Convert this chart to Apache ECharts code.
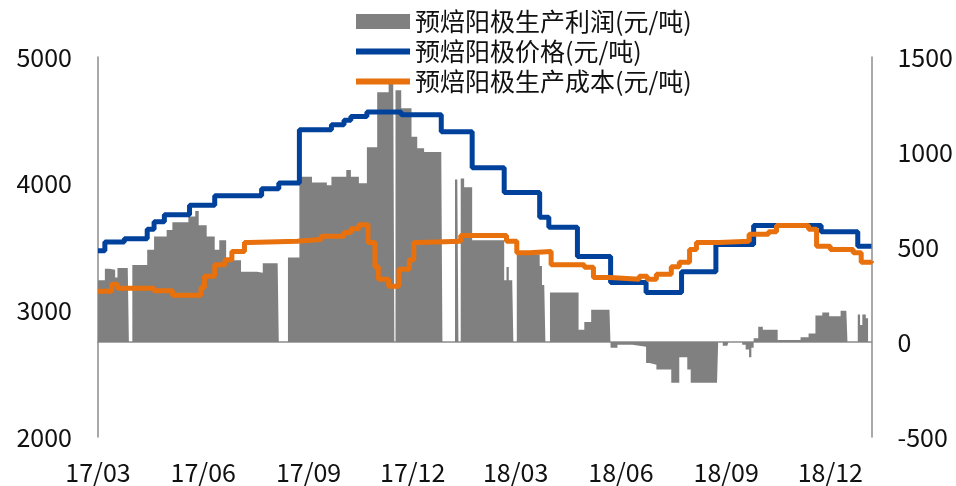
<!DOCTYPE html>
<html>
<head>
<meta charset="utf-8">
<script src="https://cdn.jsdelivr.net/npm/echarts@6/dist/echarts.min.js"></script>
<style>
html,body{margin:0;padding:0;background:#fff;}
#chart{width:956px;height:486px;}
</style>
</head>
<body>
<div id="chart"></div>
<script>
// ---- data ----
const seriesNames = ['预焙阳极生产利润(元/吨)', '预焙阳极价格(元/吨)', '预焙阳极生产成本(元/吨)'];
const tickLabels = ['2017-03-01','2017-06-01','2017-09-01','2017-12-01','2018-03-01','2018-06-01','2018-09-01','2018-12-01'];
const axisStart = '2017-03-01';
const axisEnd = '2019-01-06';

const priceDates = ['2017-03-01','2017-03-07','2017-03-24','2017-04-13','2017-04-19','2017-04-28','2017-05-20','2017-06-11','2017-07-22','2017-08-06','2017-08-24','2017-09-21','2017-10-02','2017-10-08','2017-10-22','2017-11-21','2017-12-26','2018-01-22','2018-02-19','2018-03-22','2018-03-30','2018-04-24','2018-05-23','2018-06-23','2018-07-24','2018-08-23','2018-09-25','2018-11-23','2018-12-25','2019-01-06'];
const priceValues = [3470,3540,3565,3640,3700,3755,3830,3905,3960,4005,4425,4465,4500,4530,4565,4545,4410,4125,3930,3735,3655,3425,3220,3140,3305,3520,3670,3620,3505,3505];

const costDates = ['2017-03-01','2017-03-13','2017-03-18','2017-04-19','2017-05-05','2017-05-30','2017-06-02','2017-06-11','2017-06-20','2017-06-26','2017-07-07','2017-07-11','2017-08-22','2017-09-12','2017-10-02','2017-10-08','2017-10-15','2017-10-23','2017-10-29','2017-11-01','2017-11-10','2017-11-19','2017-11-28','2017-12-02','2017-12-07','2018-01-12','2018-02-21','2018-03-02','2018-03-13','2018-04-01','2018-04-30','2018-05-08','2018-05-23','2018-06-17','2018-06-24','2018-07-02','2018-07-15','2018-07-22','2018-07-31','2018-08-06','2018-08-26','2018-09-21','2018-10-08','2018-10-15','2018-11-12','2018-11-19','2018-12-01','2018-12-21','2018-12-28','2019-01-06'];
const costValues = [3150,3205,3175,3155,3120,3180,3270,3360,3400,3465,3535,3545,3560,3585,3615,3645,3675,3535,3345,3245,3190,3325,3400,3535,3545,3590,3545,3455,3465,3360,3340,3260,3245,3270,3245,3285,3345,3380,3480,3535,3545,3600,3620,3670,3640,3505,3480,3455,3380,3390];

const profitDates = ['2017-03-01','2017-03-07','2017-03-11','2017-03-16','2017-03-18','2017-03-27','2017-03-28','2017-03-31','2017-04-13','2017-04-19','2017-04-30','2017-05-05','2017-05-19','2017-05-25','2017-05-28','2017-06-04','2017-06-11','2017-06-15','2017-06-21','2017-07-04','2017-07-18','2017-07-23','2017-08-05','2017-08-06','2017-08-14','2017-08-24','2017-09-04','2017-09-17','2017-09-21','2017-10-04','2017-10-08','2017-10-15','2017-10-22','2017-10-31','2017-11-10','2017-11-14','2017-11-15','2017-11-16','2017-11-21','2017-11-30','2017-12-05','2017-12-11','2017-12-26','2017-12-27','2018-01-07','2018-01-09','2018-01-10','2018-01-12','2018-01-15','2018-01-22','2018-02-19','2018-02-21','2018-02-23','2018-02-26','2018-02-27','2018-03-02','2018-03-22','2018-03-24','2018-03-26','2018-03-27','2018-03-31','2018-04-25','2018-04-30','2018-05-06','2018-05-22','2018-05-23','2018-05-29','2018-06-11','2018-06-23','2018-06-26','2018-07-02','2018-07-15','2018-07-22','2018-07-29','2018-08-01','2018-08-24','2018-08-25','2018-08-29','2018-09-02','2018-09-03','2018-09-15','2018-09-18','2018-09-21','2018-09-23','2018-09-25','2018-09-29','2018-10-03','2018-10-16','2018-11-05','2018-11-12','2018-11-18','2018-11-24','2018-11-30','2018-12-10','2018-12-15','2018-12-16','2018-12-25','2018-12-27','2018-12-29','2019-01-01','2019-01-03'];
const profitValues = [325,385,380,340,390,390,null,405,485,555,590,630,660,690,615,555,485,535,430,370,365,415,415,null,445,870,840,825,870,905,870,835,1025,1315,1380,1380,null,1325,1230,1080,1020,1000,1000,null,855,855,null,860,815,535,325,395,325,325,null,460,400,300,300,null,260,65,105,170,170,-30,-15,-25,-110,-120,-145,-215,-80,-145,-215,-215,null,-20,-20,null,-15,-40,-80,-30,20,80,65,10,25,45,140,155,135,165,165,null,145,90,145,125,125];

// ---- chart ----
const ts = s => new Date(s + 'T00:00:00').getTime();
const pair = (d, v) => d.map((x, i) => [ts(x), v[i]]);
const font = 'Noto Sans CJK SC';
const textColor = '#111';
const axisColor = '#8c8c8c';

const chart = echarts.init(document.getElementById('chart'));
chart.setOption({
  animation: false,
  backgroundColor: '#fff',
  textStyle: { fontFamily: font },
  grid: { left: 98, right: 84, top: 57, bottom: 49, containLabel: false },
  legend: {
    orient: 'vertical', left: 353, top: 9, itemWidth: 54, itemHeight: 15, itemGap: 5, padding: 0,
    textStyle: { fontSize: 25, color: textColor, fontFamily: font },
    data: [
      { name: seriesNames[0], icon: 'rect' },
      { name: seriesNames[1], itemStyle: { opacity: 0 }, lineStyle: { width: 6 } },
      { name: seriesNames[2], itemStyle: { opacity: 0 }, lineStyle: { width: 6 } }
    ]
  },
  xAxis: {
    type: 'value', min: ts(axisStart), max: ts(axisEnd),
    axisLine: { lineStyle: { color: axisColor, width: 1.5 } },
    axisTick: { show: false },
    splitLine: { show: false },
    axisLabel: {
      customValues: tickLabels.map(ts),
      margin: 23, fontSize: 25, color: textColor, fontFamily: font,
      formatter: v => { const d = new Date(v); return String(d.getFullYear()).slice(2) + '/' + String(d.getMonth() + 1).padStart(2, '0'); }
    }
  },
  yAxis: [
    { type: 'value', min: 2000, max: 5000, interval: 1000, position: 'left',
      axisLine: { show: true, lineStyle: { color: axisColor, width: 1.5 } }, axisTick: { show: false }, splitLine: { show: false },
      axisLabel: { margin: 26, fontSize: 25, color: textColor, fontFamily: font, formatter: v => String(v) } },
    { type: 'value', min: -500, max: 1500, interval: 500, position: 'right',
      axisLine: { show: true, lineStyle: { color: axisColor, width: 1.5 } }, axisTick: { show: false }, splitLine: { show: false },
      axisLabel: { margin: 26, fontSize: 25, color: textColor, fontFamily: font, formatter: v => String(v) } }
  ],
  series: [
    { name: seriesNames[0], type: 'line', yAxisIndex: 1, step: 'end', symbol: 'none', connectNulls: false,
      lineStyle: { width: 0, color: '#808080' }, itemStyle: { color: '#808080' },
      areaStyle: { color: '#808080', opacity: 1 }, data: pair(profitDates, profitValues), z: 1 },
    { name: seriesNames[1], type: 'line', yAxisIndex: 0, step: 'end', symbol: 'none',
      lineStyle: { width: 5, color: '#00419C' }, itemStyle: { color: '#00419C' },
      data: pair(priceDates, priceValues), z: 2 },
    { name: seriesNames[2], type: 'line', yAxisIndex: 0, step: 'end', symbol: 'none',
      lineStyle: { width: 5, color: '#E8700D' }, itemStyle: { color: '#E8700D' },
      data: pair(costDates, costValues), z: 3 }
  ]
});
</script>
</body>
</html>
